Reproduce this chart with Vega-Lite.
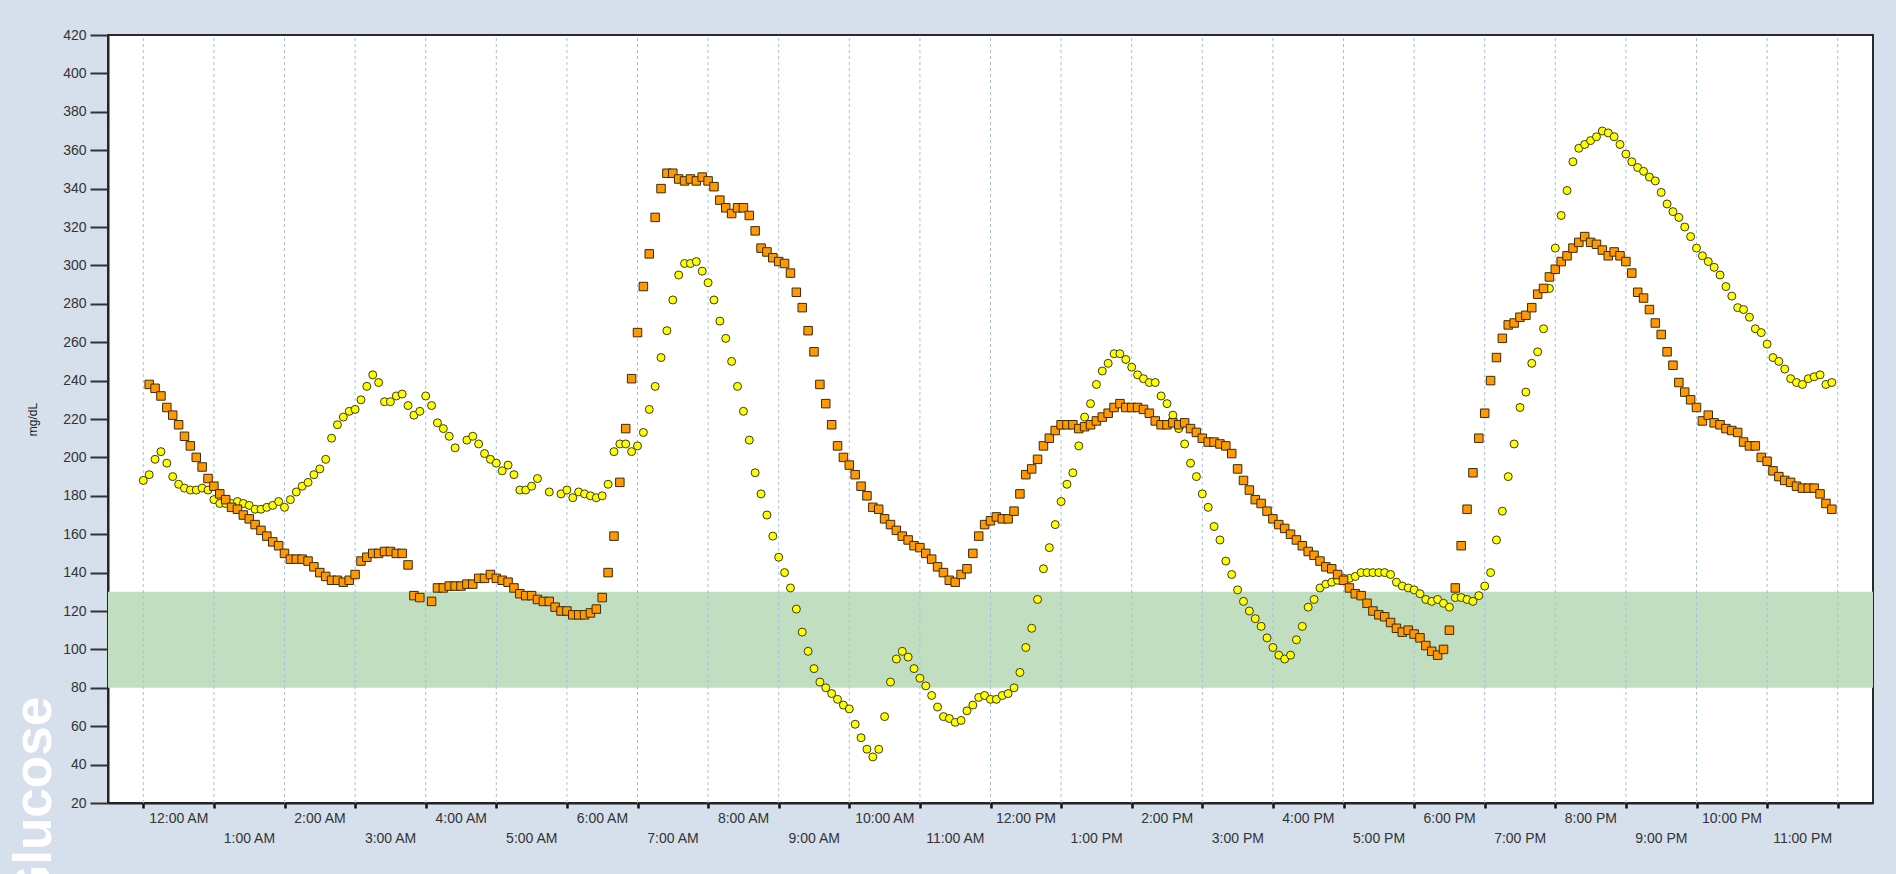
{
  "$schema": "https://vega.github.io/schema/vega-lite/v6.json",
  "width": 1765,
  "height": 768,
  "autosize": {"type": "none"},
  "padding": {"left": 108, "top": 35, "right": 23, "bottom": 71},
  "background": "#d6e0ec",
  "config": {
    "font": "Liberation Sans",
    "view": {"fill": "#ffffff", "stroke": "#2a2a2a", "strokeWidth": 2},
    "axis": {"labelOverlap": false, "labelFlush": false, "labelBound": false, "grid": false, "ticks": true}
  },
  "title": {
    "text": "Glucose",
    "orient": "left",
    "anchor": "start",
    "frame": "group",
    "color": "#ffffff",
    "font": "Liberation Sans",
    "fontSize": 53,
    "fontWeight": "bold",
    "baseline": "alphabetic",
    "offset": -77,
    "dx": -103
  },
  "datasets": {
    "sensor_b": [
      {"minute":0,"glucose":188},{"minute":5,"glucose":191},{"minute":10,"glucose":199},{"minute":15,"glucose":203},{"minute":20,"glucose":197},{"minute":25,"glucose":190},{"minute":30,"glucose":186},{"minute":35,"glucose":184},{"minute":40,"glucose":183},{"minute":45,"glucose":183},{"minute":50,"glucose":184},{"minute":55,"glucose":183},
      {"minute":60,"glucose":178},{"minute":65,"glucose":176},{"minute":70,"glucose":176},{"minute":75,"glucose":176},{"minute":80,"glucose":177},{"minute":85,"glucose":176},{"minute":90,"glucose":175},{"minute":95,"glucose":173},{"minute":100,"glucose":173},{"minute":105,"glucose":174},{"minute":110,"glucose":175},{"minute":115,"glucose":177},
      {"minute":120,"glucose":174},{"minute":125,"glucose":178},{"minute":130,"glucose":182},{"minute":135,"glucose":185},{"minute":140,"glucose":187},{"minute":145,"glucose":191},{"minute":150,"glucose":194},{"minute":155,"glucose":199},{"minute":160,"glucose":210},{"minute":165,"glucose":217},{"minute":170,"glucose":221},{"minute":175,"glucose":224},
      {"minute":180,"glucose":225},{"minute":185,"glucose":230},{"minute":190,"glucose":237},{"minute":195,"glucose":243},{"minute":200,"glucose":239},{"minute":205,"glucose":229},{"minute":210,"glucose":229},{"minute":215,"glucose":232},{"minute":220,"glucose":233},{"minute":225,"glucose":227},{"minute":230,"glucose":222},{"minute":235,"glucose":224},
      {"minute":240,"glucose":232},{"minute":245,"glucose":227},{"minute":250,"glucose":218},{"minute":255,"glucose":215},{"minute":260,"glucose":211},{"minute":265,"glucose":205},{"minute":275,"glucose":209},{"minute":280,"glucose":211},{"minute":285,"glucose":207},{"minute":290,"glucose":202},{"minute":295,"glucose":199},
      {"minute":300,"glucose":197},{"minute":305,"glucose":193},{"minute":310,"glucose":196},{"minute":315,"glucose":191},{"minute":320,"glucose":183},{"minute":325,"glucose":183},{"minute":330,"glucose":185},{"minute":335,"glucose":189},{"minute":345,"glucose":182},{"minute":355,"glucose":181},
      {"minute":360,"glucose":183},{"minute":365,"glucose":179},{"minute":370,"glucose":182},{"minute":375,"glucose":181},{"minute":380,"glucose":180},{"minute":385,"glucose":179},{"minute":390,"glucose":180},{"minute":395,"glucose":186},{"minute":400,"glucose":203},{"minute":405,"glucose":207},{"minute":410,"glucose":207},{"minute":415,"glucose":203},
      {"minute":420,"glucose":206},{"minute":425,"glucose":213},{"minute":430,"glucose":225},{"minute":435,"glucose":237},{"minute":440,"glucose":252},{"minute":445,"glucose":266},{"minute":450,"glucose":282},{"minute":455,"glucose":295},{"minute":460,"glucose":301},{"minute":465,"glucose":301},{"minute":470,"glucose":302},{"minute":475,"glucose":297},
      {"minute":480,"glucose":291},{"minute":485,"glucose":282},{"minute":490,"glucose":271},{"minute":495,"glucose":262},{"minute":500,"glucose":250},{"minute":505,"glucose":237},{"minute":510,"glucose":224},{"minute":515,"glucose":209},{"minute":520,"glucose":192},{"minute":525,"glucose":181},{"minute":530,"glucose":170},{"minute":535,"glucose":159},
      {"minute":540,"glucose":148},{"minute":545,"glucose":140},{"minute":550,"glucose":132},{"minute":555,"glucose":121},{"minute":560,"glucose":109},{"minute":565,"glucose":99},{"minute":570,"glucose":90},{"minute":575,"glucose":83},{"minute":580,"glucose":80},{"minute":585,"glucose":77},{"minute":590,"glucose":74},{"minute":595,"glucose":71},
      {"minute":600,"glucose":69},{"minute":605,"glucose":61},{"minute":610,"glucose":54},{"minute":615,"glucose":48},{"minute":620,"glucose":44},{"minute":625,"glucose":48},{"minute":630,"glucose":65},{"minute":635,"glucose":83},{"minute":640,"glucose":95},{"minute":645,"glucose":99},{"minute":650,"glucose":96},{"minute":655,"glucose":90},
      {"minute":660,"glucose":85},{"minute":665,"glucose":81},{"minute":670,"glucose":76},{"minute":675,"glucose":70},{"minute":680,"glucose":65},{"minute":685,"glucose":64},{"minute":690,"glucose":62},{"minute":695,"glucose":63},{"minute":700,"glucose":68},{"minute":705,"glucose":71},{"minute":710,"glucose":75},{"minute":715,"glucose":76},
      {"minute":720,"glucose":74},{"minute":725,"glucose":74},{"minute":730,"glucose":76},{"minute":735,"glucose":77},{"minute":740,"glucose":80},{"minute":745,"glucose":88},{"minute":750,"glucose":101},{"minute":755,"glucose":111},{"minute":760,"glucose":126},{"minute":765,"glucose":142},{"minute":770,"glucose":153},{"minute":775,"glucose":165},
      {"minute":780,"glucose":177},{"minute":785,"glucose":186},{"minute":790,"glucose":192},{"minute":795,"glucose":206},{"minute":800,"glucose":221},{"minute":805,"glucose":228},{"minute":810,"glucose":238},{"minute":815,"glucose":245},{"minute":820,"glucose":249},{"minute":825,"glucose":254},{"minute":830,"glucose":254},{"minute":835,"glucose":251},
      {"minute":840,"glucose":247},{"minute":845,"glucose":243},{"minute":850,"glucose":241},{"minute":855,"glucose":239},{"minute":860,"glucose":239},{"minute":865,"glucose":232},{"minute":870,"glucose":228},{"minute":875,"glucose":222},{"minute":880,"glucose":215},{"minute":885,"glucose":207},{"minute":890,"glucose":197},{"minute":895,"glucose":190},
      {"minute":900,"glucose":181},{"minute":905,"glucose":174},{"minute":910,"glucose":164},{"minute":915,"glucose":157},{"minute":920,"glucose":146},{"minute":925,"glucose":139},{"minute":930,"glucose":131},{"minute":935,"glucose":125},{"minute":940,"glucose":120},{"minute":945,"glucose":116},{"minute":950,"glucose":112},{"minute":955,"glucose":106},
      {"minute":960,"glucose":101},{"minute":965,"glucose":97},{"minute":970,"glucose":95},{"minute":975,"glucose":97},{"minute":980,"glucose":105},{"minute":985,"glucose":112},{"minute":990,"glucose":122},{"minute":995,"glucose":126},{"minute":1000,"glucose":132},{"minute":1005,"glucose":134},{"minute":1010,"glucose":135},{"minute":1015,"glucose":136},
      {"minute":1020,"glucose":137},{"minute":1025,"glucose":137},{"minute":1030,"glucose":138},{"minute":1035,"glucose":140},{"minute":1040,"glucose":140},{"minute":1045,"glucose":140},{"minute":1050,"glucose":140},{"minute":1055,"glucose":140},{"minute":1060,"glucose":139},{"minute":1065,"glucose":135},{"minute":1070,"glucose":133},{"minute":1075,"glucose":132},
      {"minute":1080,"glucose":131},{"minute":1085,"glucose":129},{"minute":1090,"glucose":126},{"minute":1095,"glucose":125},{"minute":1100,"glucose":126},{"minute":1105,"glucose":124},{"minute":1110,"glucose":122},{"minute":1115,"glucose":127},{"minute":1120,"glucose":127},{"minute":1125,"glucose":126},{"minute":1130,"glucose":125},{"minute":1135,"glucose":128},
      {"minute":1140,"glucose":133},{"minute":1145,"glucose":140},{"minute":1150,"glucose":157},{"minute":1155,"glucose":172},{"minute":1160,"glucose":190},{"minute":1165,"glucose":207},{"minute":1170,"glucose":226},{"minute":1175,"glucose":234},{"minute":1180,"glucose":249},{"minute":1185,"glucose":255},{"minute":1190,"glucose":267},{"minute":1195,"glucose":288},
      {"minute":1200,"glucose":309},{"minute":1205,"glucose":326},{"minute":1210,"glucose":339},{"minute":1215,"glucose":354},{"minute":1220,"glucose":361},{"minute":1225,"glucose":363},{"minute":1230,"glucose":365},{"minute":1235,"glucose":367},{"minute":1240,"glucose":370},{"minute":1245,"glucose":369},{"minute":1250,"glucose":367},{"minute":1255,"glucose":363},
      {"minute":1260,"glucose":358},{"minute":1265,"glucose":354},{"minute":1270,"glucose":351},{"minute":1275,"glucose":349},{"minute":1280,"glucose":346},{"minute":1285,"glucose":344},{"minute":1290,"glucose":338},{"minute":1295,"glucose":332},{"minute":1300,"glucose":328},{"minute":1305,"glucose":325},{"minute":1310,"glucose":320},{"minute":1315,"glucose":315},
      {"minute":1320,"glucose":309},{"minute":1325,"glucose":305},{"minute":1330,"glucose":302},{"minute":1335,"glucose":299},{"minute":1340,"glucose":295},{"minute":1345,"glucose":289},{"minute":1350,"glucose":284},{"minute":1355,"glucose":278},{"minute":1360,"glucose":277},{"minute":1365,"glucose":273},{"minute":1370,"glucose":267},{"minute":1375,"glucose":265},
      {"minute":1380,"glucose":259},{"minute":1385,"glucose":252},{"minute":1390,"glucose":250},{"minute":1395,"glucose":246},{"minute":1400,"glucose":241},{"minute":1405,"glucose":239},{"minute":1410,"glucose":238},{"minute":1415,"glucose":241},{"minute":1420,"glucose":242},{"minute":1425,"glucose":243},{"minute":1430,"glucose":238},{"minute":1435,"glucose":239}
    ],
    "sensor_a": [
      {"minute":5,"glucose":238},{"minute":10,"glucose":236},{"minute":15,"glucose":232},{"minute":20,"glucose":226},{"minute":25,"glucose":222},{"minute":30,"glucose":217},{"minute":35,"glucose":211},{"minute":40,"glucose":206},{"minute":45,"glucose":200},{"minute":50,"glucose":195},{"minute":55,"glucose":189},
      {"minute":60,"glucose":185},{"minute":65,"glucose":181},{"minute":70,"glucose":178},{"minute":75,"glucose":174},{"minute":80,"glucose":173},{"minute":85,"glucose":170},{"minute":90,"glucose":168},{"minute":95,"glucose":165},{"minute":100,"glucose":162},{"minute":105,"glucose":159},{"minute":110,"glucose":156},{"minute":115,"glucose":154},
      {"minute":120,"glucose":150},{"minute":125,"glucose":147},{"minute":130,"glucose":147},{"minute":135,"glucose":147},{"minute":140,"glucose":146},{"minute":145,"glucose":143},{"minute":150,"glucose":140},{"minute":155,"glucose":138},{"minute":160,"glucose":136},{"minute":165,"glucose":136},{"minute":170,"glucose":135},{"minute":175,"glucose":136},
      {"minute":180,"glucose":139},{"minute":185,"glucose":146},{"minute":190,"glucose":148},{"minute":195,"glucose":150},{"minute":200,"glucose":150},{"minute":205,"glucose":151},{"minute":210,"glucose":151},{"minute":215,"glucose":150},{"minute":220,"glucose":150},{"minute":225,"glucose":144},{"minute":230,"glucose":128},{"minute":235,"glucose":127},
      {"minute":245,"glucose":125},{"minute":250,"glucose":132},{"minute":255,"glucose":132},{"minute":260,"glucose":133},{"minute":265,"glucose":133},{"minute":270,"glucose":133},{"minute":275,"glucose":134},{"minute":280,"glucose":134},{"minute":285,"glucose":137},{"minute":290,"glucose":137},{"minute":295,"glucose":139},
      {"minute":300,"glucose":137},{"minute":305,"glucose":136},{"minute":310,"glucose":135},{"minute":315,"glucose":132},{"minute":320,"glucose":129},{"minute":325,"glucose":128},{"minute":330,"glucose":128},{"minute":335,"glucose":126},{"minute":340,"glucose":125},{"minute":345,"glucose":125},{"minute":350,"glucose":122},{"minute":355,"glucose":120},
      {"minute":360,"glucose":120},{"minute":365,"glucose":118},{"minute":370,"glucose":118},{"minute":375,"glucose":118},{"minute":380,"glucose":119},{"minute":385,"glucose":121},{"minute":390,"glucose":127},{"minute":395,"glucose":140},{"minute":400,"glucose":159},{"minute":405,"glucose":187},{"minute":410,"glucose":215},{"minute":415,"glucose":241},
      {"minute":420,"glucose":265},{"minute":425,"glucose":289},{"minute":430,"glucose":306},{"minute":435,"glucose":325},{"minute":440,"glucose":340},{"minute":445,"glucose":348},{"minute":450,"glucose":348},{"minute":455,"glucose":345},{"minute":460,"glucose":344},{"minute":465,"glucose":345},{"minute":470,"glucose":344},{"minute":475,"glucose":346},
      {"minute":480,"glucose":344},{"minute":485,"glucose":341},{"minute":490,"glucose":334},{"minute":495,"glucose":330},{"minute":500,"glucose":327},{"minute":505,"glucose":330},{"minute":510,"glucose":330},{"minute":515,"glucose":326},{"minute":520,"glucose":318},{"minute":525,"glucose":309},{"minute":530,"glucose":307},{"minute":535,"glucose":304},
      {"minute":540,"glucose":302},{"minute":545,"glucose":301},{"minute":550,"glucose":296},{"minute":555,"glucose":286},{"minute":560,"glucose":278},{"minute":565,"glucose":266},{"minute":570,"glucose":255},{"minute":575,"glucose":238},{"minute":580,"glucose":228},{"minute":585,"glucose":217},{"minute":590,"glucose":206},{"minute":595,"glucose":200},
      {"minute":600,"glucose":196},{"minute":605,"glucose":191},{"minute":610,"glucose":185},{"minute":615,"glucose":180},{"minute":620,"glucose":174},{"minute":625,"glucose":173},{"minute":630,"glucose":168},{"minute":635,"glucose":165},{"minute":640,"glucose":162},{"minute":645,"glucose":159},{"minute":650,"glucose":157},{"minute":655,"glucose":154},
      {"minute":660,"glucose":153},{"minute":665,"glucose":150},{"minute":670,"glucose":147},{"minute":675,"glucose":143},{"minute":680,"glucose":140},{"minute":685,"glucose":136},{"minute":690,"glucose":135},{"minute":695,"glucose":139},{"minute":700,"glucose":142},{"minute":705,"glucose":150},{"minute":710,"glucose":159},{"minute":715,"glucose":165},
      {"minute":720,"glucose":167},{"minute":725,"glucose":169},{"minute":730,"glucose":168},{"minute":735,"glucose":168},{"minute":740,"glucose":172},{"minute":745,"glucose":181},{"minute":750,"glucose":191},{"minute":755,"glucose":194},{"minute":760,"glucose":199},{"minute":765,"glucose":206},{"minute":770,"glucose":210},{"minute":775,"glucose":214},
      {"minute":780,"glucose":217},{"minute":785,"glucose":217},{"minute":790,"glucose":217},{"minute":795,"glucose":215},{"minute":800,"glucose":216},{"minute":805,"glucose":217},{"minute":810,"glucose":219},{"minute":815,"glucose":221},{"minute":820,"glucose":223},{"minute":825,"glucose":226},{"minute":830,"glucose":228},{"minute":835,"glucose":226},
      {"minute":840,"glucose":226},{"minute":845,"glucose":226},{"minute":850,"glucose":225},{"minute":855,"glucose":223},{"minute":860,"glucose":219},{"minute":865,"glucose":217},{"minute":870,"glucose":217},{"minute":875,"glucose":218},{"minute":880,"glucose":217},{"minute":885,"glucose":218},{"minute":890,"glucose":215},{"minute":895,"glucose":213},
      {"minute":900,"glucose":210},{"minute":905,"glucose":208},{"minute":910,"glucose":208},{"minute":915,"glucose":207},{"minute":920,"glucose":206},{"minute":925,"glucose":202},{"minute":930,"glucose":194},{"minute":935,"glucose":188},{"minute":940,"glucose":183},{"minute":945,"glucose":178},{"minute":950,"glucose":176},{"minute":955,"glucose":172},
      {"minute":960,"glucose":168},{"minute":965,"glucose":165},{"minute":970,"glucose":163},{"minute":975,"glucose":160},{"minute":980,"glucose":157},{"minute":985,"glucose":154},{"minute":990,"glucose":151},{"minute":995,"glucose":149},{"minute":1000,"glucose":146},{"minute":1005,"glucose":143},{"minute":1010,"glucose":142},{"minute":1015,"glucose":139},
      {"minute":1020,"glucose":136},{"minute":1025,"glucose":132},{"minute":1030,"glucose":129},{"minute":1035,"glucose":128},{"minute":1040,"glucose":124},{"minute":1045,"glucose":120},{"minute":1050,"glucose":118},{"minute":1055,"glucose":117},{"minute":1060,"glucose":114},{"minute":1065,"glucose":111},{"minute":1070,"glucose":109},{"minute":1075,"glucose":110},
      {"minute":1080,"glucose":108},{"minute":1085,"glucose":106},{"minute":1090,"glucose":102},{"minute":1095,"glucose":99},{"minute":1100,"glucose":97},{"minute":1105,"glucose":100},{"minute":1110,"glucose":110},{"minute":1115,"glucose":132},{"minute":1120,"glucose":154},{"minute":1125,"glucose":173},{"minute":1130,"glucose":192},{"minute":1135,"glucose":210},
      {"minute":1140,"glucose":223},{"minute":1145,"glucose":240},{"minute":1150,"glucose":252},{"minute":1155,"glucose":262},{"minute":1160,"glucose":269},{"minute":1165,"glucose":270},{"minute":1170,"glucose":273},{"minute":1175,"glucose":274},{"minute":1180,"glucose":278},{"minute":1185,"glucose":285},{"minute":1190,"glucose":288},{"minute":1195,"glucose":294},
      {"minute":1200,"glucose":298},{"minute":1205,"glucose":302},{"minute":1210,"glucose":305},{"minute":1215,"glucose":309},{"minute":1220,"glucose":312},{"minute":1225,"glucose":315},{"minute":1230,"glucose":312},{"minute":1235,"glucose":311},{"minute":1240,"glucose":308},{"minute":1245,"glucose":305},{"minute":1250,"glucose":307},{"minute":1255,"glucose":305},
      {"minute":1260,"glucose":302},{"minute":1265,"glucose":296},{"minute":1270,"glucose":286},{"minute":1275,"glucose":283},{"minute":1280,"glucose":277},{"minute":1285,"glucose":270},{"minute":1290,"glucose":264},{"minute":1295,"glucose":255},{"minute":1300,"glucose":248},{"minute":1305,"glucose":239},{"minute":1310,"glucose":234},{"minute":1315,"glucose":230},
      {"minute":1320,"glucose":226},{"minute":1325,"glucose":219},{"minute":1330,"glucose":222},{"minute":1335,"glucose":218},{"minute":1340,"glucose":217},{"minute":1345,"glucose":215},{"minute":1350,"glucose":214},{"minute":1355,"glucose":213},{"minute":1360,"glucose":208},{"minute":1365,"glucose":206},{"minute":1370,"glucose":206},{"minute":1375,"glucose":200},
      {"minute":1380,"glucose":198},{"minute":1385,"glucose":193},{"minute":1390,"glucose":190},{"minute":1395,"glucose":188},{"minute":1400,"glucose":187},{"minute":1405,"glucose":185},{"minute":1410,"glucose":184},{"minute":1415,"glucose":184},{"minute":1420,"glucose":184},{"minute":1425,"glucose":181},{"minute":1430,"glucose":176},{"minute":1435,"glucose":173}
    ],
    "target_range": [{"minute": -30, "minute_end": 1470, "glucose": 80, "upper": 130}],
    "hour_marks": [
      {"minute":0,"glucose":20,"upper":420},{"minute":60,"glucose":20,"upper":420},{"minute":120,"glucose":20,"upper":420},{"minute":180,"glucose":20,"upper":420},{"minute":240,"glucose":20,"upper":420},
      {"minute":300,"glucose":20,"upper":420},{"minute":360,"glucose":20,"upper":420},{"minute":420,"glucose":20,"upper":420},{"minute":480,"glucose":20,"upper":420},{"minute":540,"glucose":20,"upper":420},
      {"minute":600,"glucose":20,"upper":420},{"minute":660,"glucose":20,"upper":420},{"minute":720,"glucose":20,"upper":420},{"minute":780,"glucose":20,"upper":420},{"minute":840,"glucose":20,"upper":420},
      {"minute":900,"glucose":20,"upper":420},{"minute":960,"glucose":20,"upper":420},{"minute":1020,"glucose":20,"upper":420},{"minute":1080,"glucose":20,"upper":420},{"minute":1140,"glucose":20,"upper":420},
      {"minute":1200,"glucose":20,"upper":420},{"minute":1260,"glucose":20,"upper":420},{"minute":1320,"glucose":20,"upper":420},{"minute":1380,"glucose":20,"upper":420},{"minute":1440,"glucose":20,"upper":420}
    ]
  },
  "encoding": {
    "x": {
      "field": "minute",
      "type": "quantitative",
      "title": null,
      "scale": {"domain": [-30, 1470], "nice": false, "zero": false},
      "axis": {
        "values": [0,60,120,180,240,300,360,420,480,540,600,660,720,780,840,900,960,1020,1080,1140,1200,1260,1320,1380,1440],
        "domainColor": "#222222",
        "domainWidth": 2,
        "ticks": true,
        "tickSize": 5,
        "tickWidth": 2.5,
        "tickColor": "#111111",
        "labelExpr": "datum.value >= 1440 ? '' : (floor(datum.value / 60) % 2 == 0 ? ((floor(datum.value / 60) % 12 == 0 ? 12 : floor(datum.value / 60) % 12) + ':00 ' + (datum.value < 720 ? 'AM' : 'PM')) : ['', ((floor(datum.value / 60) % 12 == 0 ? 12 : floor(datum.value / 60) % 12) + ':00 ' + (datum.value < 720 ? 'AM' : 'PM'))])",
        "labelOffset": 35,
        "labelPadding": 3,
        "labelLineHeight": 20,
        "labelFont": "Liberation Sans",
        "labelFontSize": 14,
        "labelColor": "#333333",
        "labelBaseline": "top",
        "labelAlign": "center",
        "labelOverlap": false
      }
    },
    "y": {
      "field": "glucose",
      "type": "quantitative",
      "title": "mg/dL",
      "scale": {"domain": [20, 420], "nice": false, "zero": false},
      "axis": {
        "values": [20,40,60,80,100,120,140,160,180,200,220,240,260,280,300,320,340,360,380,400,420],
        "domainColor": "#222222",
        "domainWidth": 2,
        "ticks": true,
        "tickSize": 18,
        "tickWidth": 2,
        "tickColor": "#333333",
        "labelFont": "Liberation Sans",
        "labelFontSize": 14,
        "labelColor": "#333333",
        "labelPadding": 4,
        "labelOverlap": false,
        "titleFont": "Liberation Sans",
        "titleFontSize": 12,
        "titleFontWeight": "normal",
        "titleColor": "#222222",
        "titlePadding": 23
      }
    }
  },
  "layer": [
    {
      "data": {"name": "target_range"},
      "mark": {"type": "rect", "color": "#c1dfc0"},
      "encoding": {
        "x2": {"field": "minute_end"},
        "y2": {"field": "upper"}
      }
    },
    {
      "data": {"name": "hour_marks"},
      "mark": {"type": "rule", "color": "#a9bde0", "strokeWidth": 1, "strokeDash": [3, 3]},
      "encoding": {
        "y2": {"field": "upper"}
      }
    },
    {
      "data": {"name": "sensor_b"},
      "mark": {"type": "point", "shape": "circle", "filled": true, "color": "#ffff00", "stroke": "#3a3a22", "strokeWidth": 1, "opacity": 1, "size": 64}
    },
    {
      "data": {"name": "sensor_a"},
      "mark": {"type": "point", "shape": "square", "filled": true, "color": "#ff9900", "stroke": "#3a2a10", "strokeWidth": 1, "opacity": 1, "size": 72}
    }
  ]
}
